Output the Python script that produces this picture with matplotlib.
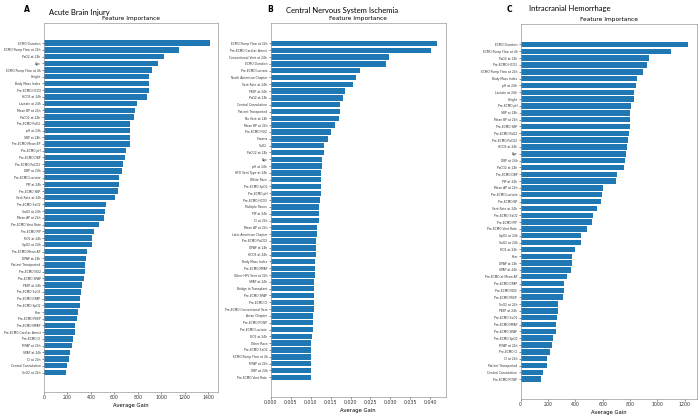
import matplotlib
matplotlib.use("Agg")
import matplotlib.pyplot as plt

# Panel A: Acute Brain Injury
abi_features = ["ECMO Duration", "ECMO Pump Flow at 24h", "PaO2 at 24h", "Age", "ECMO Pump Flow at 4h",
                "Height", "Body Mass Index", "Pre-ECMO HCO3", "HCO3 at 24h", "Lactate at 24h",
                "Mean BP at 24h", "PaCO2 at 24h", "Pre-ECMO PaO2", "pH at 24h", "SBP at 24h",
                "Pre-ECMO Mean BP", "Pre-ECMO pH", "Pre-ECMO DBP", "Pre-ECMO PaCO2", "DBP at 24h",
                "Pre-ECMO Lactate", "PIP at 24h", "Pre-ECMO SBP", "Vent Rate at 24h", "Pre-ECMO SaO2",
                "SaO2 at 24h", "Mean AP at 24h", "Pre-ECMO Vent Rate", "Pre-ECMO PIP", "FiO2 at 24h",
                "SpO2 at 24h", "Pre-ECMO Mean AP", "DPAP at 24h", "Patient Transported", "Pre-ECMO NO2",
                "Pre-ECMO SPAP", "PEEP at 24h", "Pre-ECMO SvO2", "Pre-ECMO DPAP", "Pre-ECMO SpO2",
                "Year", "Pre-ECMO PEEP", "Pre-ECMO MPAP", "Pre-ECMO Cardiac Arrest", "Pre-ECMO CI",
                "MPAP at 24h", "SPAP at 24h", "CI at 24h", "Central Cannulation", "SvO2 at 24h"]
abi_gain = [1415, 1156, 1025, 973, 922, 899, 897, 894, 880, 791,
            777, 768, 737, 737, 731, 731, 703, 692, 675, 666,
            640, 640, 632, 609, 532, 518, 510, 470, 424, 413,
            407, 367, 359, 347, 347, 342, 322, 319, 310, 305,
            290, 279, 268, 262, 245, 236, 225, 214, 194, 191]

# Panel B: Central Nervous System Ischemia
cns_features = ["ECMO Pump Flow at 24h", "Pre-ECMO Cardiac Arrest", "Conventional Vent at 24h", "ECMO Duration",
                "Pre-ECMO Lactate", "North American Chapter", "Vent Rate at 24h", "PEEP at 24h", "PaO2 at 24h",
                "Central Cannulation", "Patient Transported", "No Vent at 24h", "Mean BP at 24h", "Pre-ECMO FiO2",
                "Trauma", "SaO2", "PaCO2 at 24h", "Age", "pH at 24h", "HFO Vent Type at 24h", "White Race",
                "Pre-ECMO SpO2", "Pre-ECMO pH", "Pre-ECMO HCO3", "Multiple Races", "PIP at 24h", "CI at 24h",
                "Mean AP at 24h", "Latin American Chapter", "Pre-ECMO PaCO2", "DPAP at 24h", "HCO3 at 24h",
                "Body Mass Index", "Pre-ECMO MPAP", "Other HFV Vent at 24h", "SPAP at 24h", "Bridge to Transplant",
                "Pre-ECMO SPAP", "Pre-ECMO CI", "Pre-ECMO Conventional Vent", "Asian Chapter", "Pre-ECMO PCWP",
                "Pre-ECMO Lactate ", "FiO2 at 24h", "Other Race", "Pre-ECMO SaO2", "ECMO Pump Flow at 4h",
                "MPAP at 24h", "DBP at 24h", "Pre-ECMO Vent Rate"]
cns_gain = [0.04176, 0.04026, 0.02965, 0.02898, 0.02239, 0.02130, 0.02063, 0.01871, 0.01812, 0.01729,
            0.01729, 0.01704, 0.01604, 0.01511, 0.01444, 0.01336, 0.01336, 0.01294, 0.01278, 0.01269,
            0.01269, 0.01261, 0.01253, 0.01236, 0.01219, 0.01219, 0.01211, 0.01161, 0.01153, 0.01136,
            0.01136, 0.01136, 0.01111, 0.01103, 0.01103, 0.01094, 0.01094, 0.01086, 0.01086, 0.01078,
            0.01070, 0.01061, 0.01069, 0.01036, 0.01019, 0.01011, 0.01011, 0.01011, 0.01003, 0.01003]

# Panel C: Intracranial Hemorrhage
ich_features = ["ECMO Duration", "ECMO Pump Flow at 4h", "PaO2 at 24h", "Pre-ECMO HCO3", "ECMO Pump Flow at 24h",
                "Body Mass Index", "pH at 24h", "Lactate at 24h", "Height", "Pre-ECMO pH", "SBP at 24h",
                "Mean BP at 24h", "Pre-ECMO SBP", "Pre-ECMO PaO2", "Pre-ECMO PaCO2", "HCO3 at 24h", "Age",
                "DBP at 24h", "PaCO2 at 24h", "Pre-ECMO DBP", "PIP at 24h", "Mean AP at 24h", "Pre-ECMO Lactate",
                "Pre-ECMO BP", "Vent Rate at 24h", "Pre-ECMO SaO2", "Pre-ECMO PIP", "Pre-ECMO Vent Rate",
                "SpO2 at 24h", "SaO2 at 24h", "FiO2 at 24h", "Year", "DPAP at 24h", "SPAP at 24h",
                "Pre-ECMO at Mean AP", "Pre-ECMO DPAP", "Pre-ECMO NO2", "Pre-ECMO PEEP", "SvO2 at 24h",
                "PEEP at 24h", "Pre-ECMO SvO2", "Pre-ECMO MPAP", "Pre-ECMO SPAP", "Pre-ECMO SpO2",
                "MPAP at 24h", "Pre-ECMO CI", "CI at 24h", "Patient Transported", "Central Cannulation",
                "Pre-ECMO PCWP"]
ich_gain = [1227, 1102, 940, 923, 894, 852, 847, 833, 830, 811,
            803, 803, 803, 796, 789, 779, 769, 764, 757, 705,
            695, 605, 597, 588, 561, 531, 522, 487, 443, 443,
            399, 379, 377, 367, 340, 318, 316, 311, 274, 272,
            267, 257, 257, 235, 232, 215, 193, 193, 161, 151]

panels = [
    ("A", "Acute Brain Injury", abi_features, abi_gain, [0, 200, 400, 600, 800, 1000, 1200, 1400], "{:.0f}"),
    ("B", "Central Nervous System Ischemia", cns_features, cns_gain,
     [0, 0.005, 0.01, 0.015, 0.02, 0.025, 0.03, 0.035, 0.04], "{:.3f}"),
    ("C", "Intracranial Hemorrhage", ich_features, ich_gain, [0, 200, 400, 600, 800, 1000, 1200], "{:.0f}"),
]

W, H = 700, 417
# axes boxes in pixels: left, top, right, bottom
boxes = [(44, 23, 218, 392), (270.7, 23, 445.7, 397), (520.7, 24, 696.7, 399)]
letter_pos = [(24, 10), (267, 10), (507, 9)]
title_pos = [(49, 12), (286, 11), (529, 8)]

fig = plt.figure(figsize=(7, 4.17), dpi=100)

for (letter, name, feats, vals, ticks, fmt), (l, t, r, b), lp, tp in zip(panels, boxes, letter_pos, title_pos):
    ax = fig.add_axes([l / W, (H - b) / H, (r - l) / W, (b - t) / H])
    n = len(feats)
    y = range(n)
    ax.barh(y, vals, height=0.8, color="#1f77b4")
    ax.set_yticks(list(y))
    ax.set_yticklabels(feats, fontsize=2.2)
    ax.set_ylim(n - 1 + 2.9, -3)
    ax.set_xticks(ticks)
    ax.set_xticklabels([fmt.format(v) for v in ticks], fontsize=3.4)
    ax.tick_params(axis="both", length=1.5, width=0.4, pad=1, colors="#333333")
    ax.set_xlabel("Average Gain", fontsize=3.8, labelpad=1.5)
    ax.set_title("Feature Importance", fontsize=4.2, pad=2)
    for s in ax.spines.values():
        s.set_linewidth(0.5)
        s.set_color("#999999")
    fig.text(lp[0] / W, 1 - lp[1] / H, letter, fontsize=5.5, fontweight="bold", va="center", ha="left")
    fig.text(tp[0] / W, 1 - tp[1] / H, name, fontsize=5.5, family=["Lato", "DejaVu Sans"],
             va="center", ha="left")

fig.savefig("out.png", dpi=100)
